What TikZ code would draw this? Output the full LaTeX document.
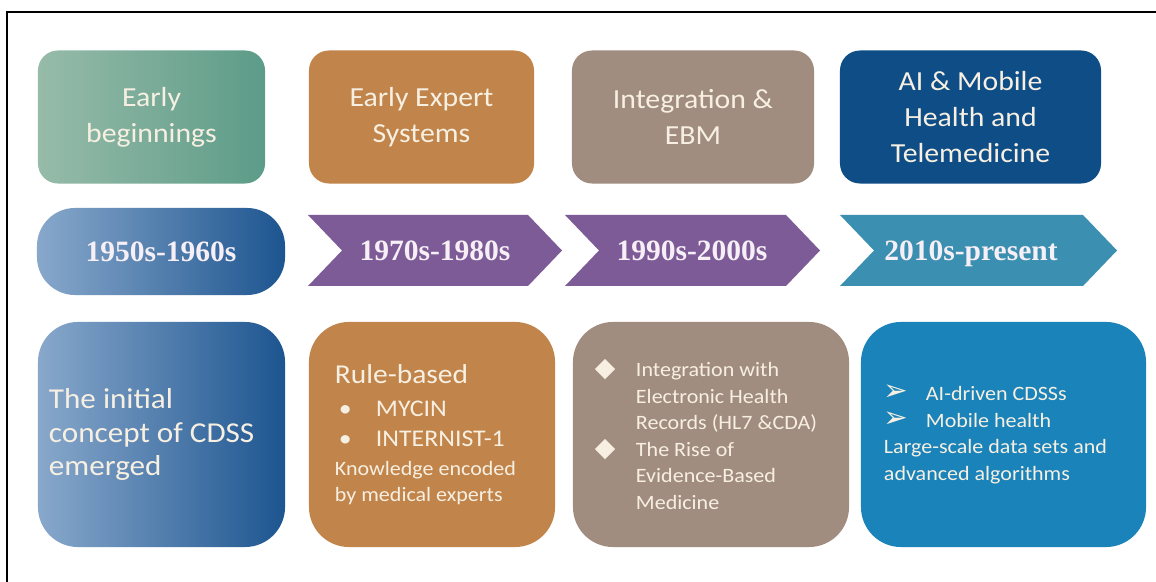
\documentclass[tikz,border=0pt]{standalone}
\usepackage{fontspec}
\setmainfont{Carlito}[FakeStretch=1.08]
\newfontfamily\yearfont{Liberation Serif}
\newfontfamily\symfont{DejaVu Sans}
\usepackage{xcolor}
\definecolor{cdssgreenL}{HTML}{97BBA9}
\definecolor{cdssgreenR}{HTML}{5C9C88}
\definecolor{cdssorange}{HTML}{C1844A}
\definecolor{cdsstaupe}{HTML}{A18D7F}
\definecolor{cdssnavy}{HTML}{0F4D87}
\definecolor{cdssblueL}{HTML}{88A8CB}
\definecolor{cdssblueR}{HTML}{1D5590}
\definecolor{cdsspurple}{HTML}{7D5B97}
\definecolor{cdssteal}{HTML}{3B8FB1}
\definecolor{cdsssky}{HTML}{1A83B9}
\definecolor{cdsscream}{HTML}{F7F0E2}
\definecolor{cdssyear}{HTML}{F6EFF6}
\usepackage{tikz}
\usetikzlibrary{positioning}
\tikzset{
  erabox/.style={rounded corners=0.5cm,minimum height=3.325cm,inner sep=0pt,align=center,text=cdsscream,font=\fontsize{19.6}{25.6}\selectfont},
  notebox/.style={rounded corners=1cm,minimum height=5.625cm,inner sep=0pt},
  notetext/.style={inner sep=0pt,align=left,text=cdsscream},
  yearlabel/.style={inner sep=0pt,text height=14.2pt,text depth=0pt,text=cdssyear,font=\yearfont\bfseries\fontsize{21}{25}\selectfont},
}
\newcommand{\diabullet}{\makebox[1.025cm][l]{\symfont\fontsize{19}{19}\selectfont ◆}}
\newcommand{\arrbullet}{\makebox[1.05cm][l]{\symfont\fontsize{21}{19}\selectfont ➢}}

\begin{document}
\begin{tikzpicture}[x=0.025cm,y=-0.025cm]
\useasboundingbox (0,0) rectangle (1156,582);
\fill[white] (0,0) rectangle (1156,582);
\draw[line width=0.05cm] (7,582) -- (7,12) -- (1156,12);

% eras
\node[erabox,left color=cdssgreenL,right color=cdssgreenR,minimum width=5.675cm] (t1) at (151.5,117) {Early\\beginnings};
\node[erabox,fill=cdssorange,minimum width=5.625cm] (t2) at (421.5,117) {Early Expert\\Systems};
\node[erabox,fill=cdsstaupe,minimum width=6.05cm] (t3) at (693,117) {Integration \&\\EBM};
\node[erabox,fill=cdssnavy,minimum width=6.525cm] (t4) at (970.5,117) {AI \& Mobile\\Health and\\Telemedicine};

% time line
\node[yearlabel,rounded corners=0.95cm,minimum width=6.2cm,minimum height=2.175cm,left color=cdssblueL,right color=cdssblueR] (y50) at (161,251.5) {1950s-1960s};
\foreach \xa/\xb/\tx/\col/\yr/\nm in {308/562/435/cdsspurple/1970s-1980s/y70,
                                      565/820/692/cdsspurple/1990s-2000s/y90,
                                      840/1117/971/cdssteal/2010s-present/y10}{
  \fill[\col] (\xa,215) -- (\xb-34,215) -- (\xb,250.5) -- (\xb-34,286) -- (\xa,286) -- (\xa+34,250.5) -- cycle;
  \node[yearlabel] (\nm) at (\tx,250.5) {\yr};
}

% notes
\node[notebox,left color=cdssblueL,right color=cdssblueR,minimum width=6.175cm] (b1) at (161.5,434.5) {};
\node[notetext,right=0.275cm of b1.west,font=\fontsize{20.5}{23.5}\selectfont] (b1txt) {The initial\\concept of CDSS\\emerged};

\node[notebox,fill=cdssorange,minimum width=6.15cm] (b2) at (432,434.5) {};
\node[notetext,right=0.65cm of b2.west,font=\fontsize{14.5}{18.5}\selectfont] (b2txt)
  {{\fontsize{19.4}{20}\selectfont Rule-based}\\[5pt]
   \hspace*{0.1cm}\makebox[0.925cm][l]{\fontsize{17}{18}\selectfont •}{\fontsize{17}{18}\selectfont MYCIN}\\[2.8pt]
   \hspace*{0.1cm}\makebox[0.925cm][l]{\fontsize{17}{18}\selectfont •}{\fontsize{17}{18}\selectfont INTERNIST-1}\\[2pt]
   Knowledge encoded\\
   by medical experts};

\node[notebox,fill=cdsstaupe,minimum width=6.9cm] (b3) at (711,434.5) {};
\node[notetext,right=0.55cm of b3.west,font=\fontsize{14.5}{18.9}\selectfont] (b3txt)
  {\diabullet Integration with\\
   \hspace*{1.025cm}Electronic Health\\
   \hspace*{1.025cm}Records (HL7 \&CDA)\\
   \diabullet The Rise of\\
   \hspace*{1.025cm}Evidence-Based\\
   \hspace*{1.025cm}Medicine};

\node[notebox,fill=cdsssky,minimum width=7.125cm] (b4) at (1003.5,434.5) {};
\node[notetext,right=0.575cm of b4.west,font=\fontsize{14.5}{18.9}\selectfont] (b4txt)
  {\arrbullet AI-driven CDSSs\\
   \arrbullet Mobile health\\
   Large-scale data sets and\\
   advanced algorithms};
\end{tikzpicture}
\end{document}
